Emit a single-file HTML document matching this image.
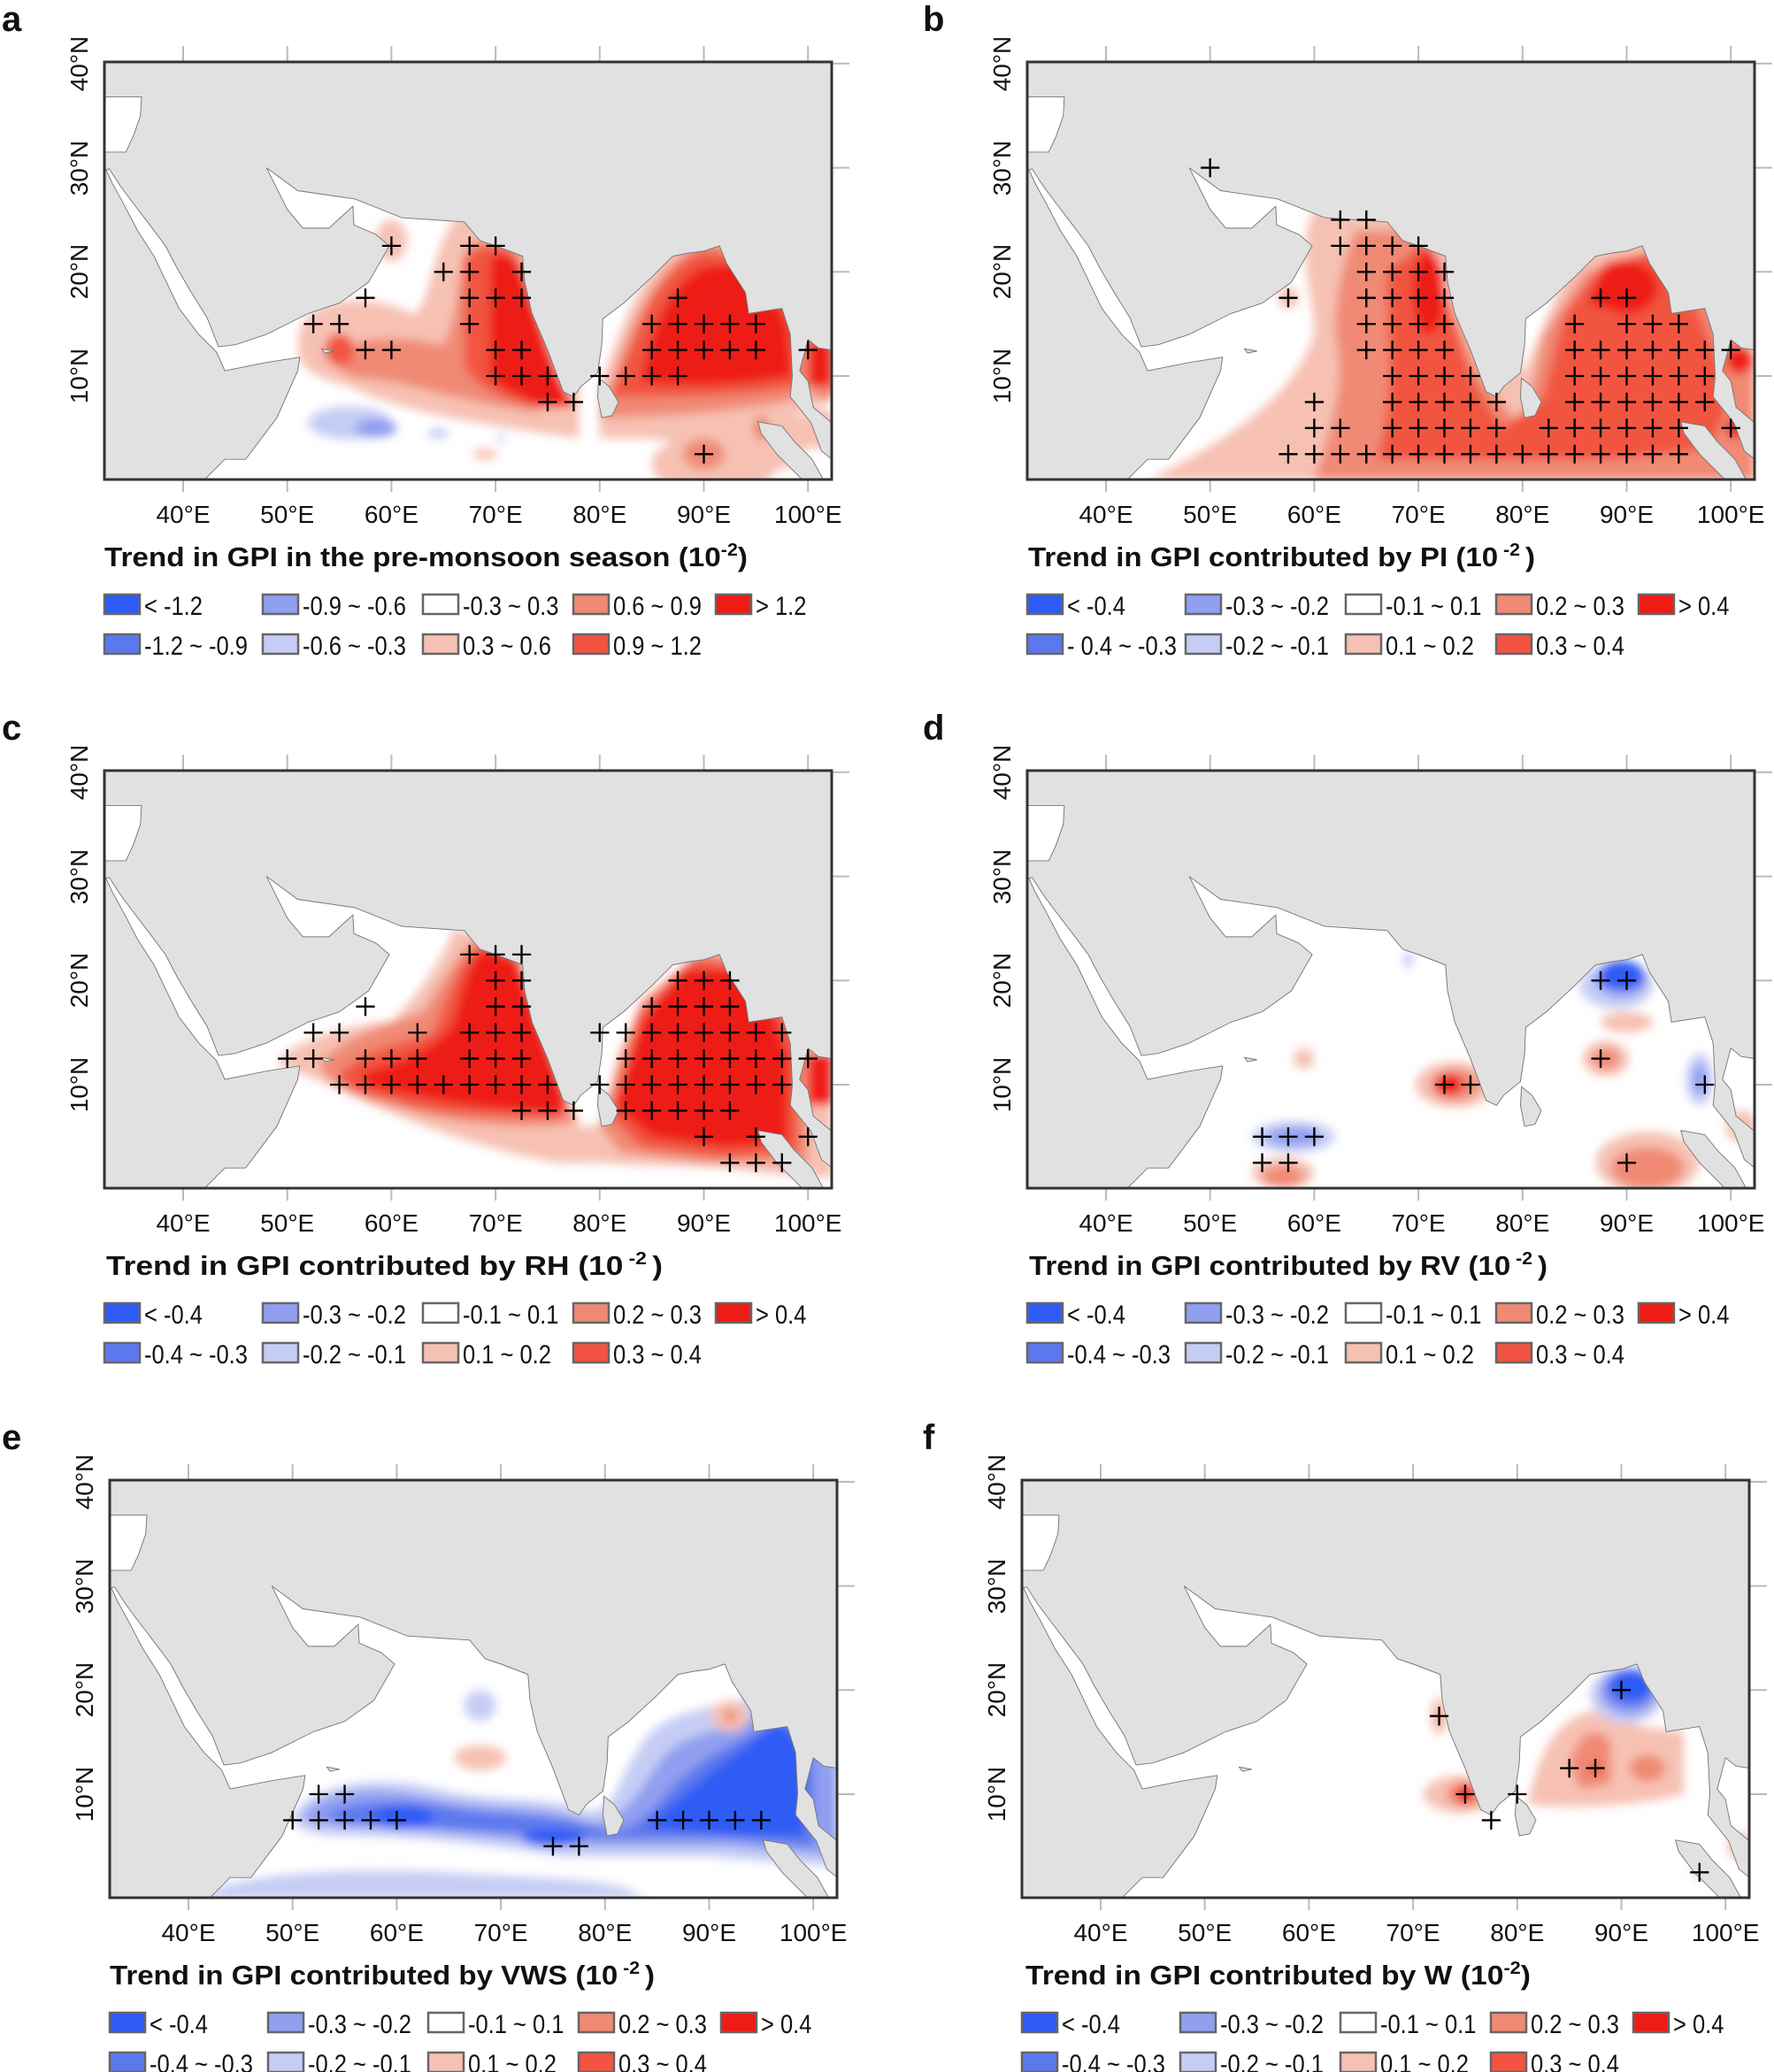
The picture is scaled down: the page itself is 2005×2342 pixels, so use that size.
<!DOCTYPE html>
<html><head><meta charset="utf-8"><style>
html,body{margin:0;padding:0;background:#fff}
svg{display:block}
text{font-family:"Liberation Sans",sans-serif;fill:#111}
.tl{font-size:28px}
.lg{font-size:30px}
.tt{font-size:31px;font-weight:bold}
.pl{font-size:40px;font-weight:bold}
</style></head><body>
<svg width="2005" height="2342" viewBox="0 0 2005 2342" xmlns="http://www.w3.org/2000/svg">
<defs>
<path id="seaP" d="M42,0 L44,2 L46,2 L49,6 L51,10.5 L51.2,11.8 L48,11.3 L44,10.5 L43.2,12.3 L41.5,14 L39.6,16.5 L38.4,19 L37.2,21.5 L35.6,24 L34.3,26.5 L33.2,28.5 L32.6,29.8 L32.9,29.9 L34,28.2 L35.2,26.6 L36.8,24.5 L38.3,22.5 L39.4,20.4 L40.8,18 L42.3,15.6 L43.4,12.8 L45,13 L48,14 L52,16 L55,17 L57.8,19 L59.8,22.5 L58.5,23.6 L56.4,24.5 L56.3,26.3 L54,24.2 L51.5,24.2 L50,26 L48,30 L51,27.8 L56.5,27 L61,25.2 L67,24.8 L68.5,23 L70,22.5 L72.6,21.5 L72.8,19 L73.5,16 L75,12.5 L76.5,8.5 L77.5,8 L78.2,9 L79.8,10.3 L80.2,13 L80.3,15.5 L82.3,17 L85,19.5 L87,21.5 L88.5,21.8 L90,22 L91.5,22.5 L92.2,20.8 L94,18 L94.3,16 L97.5,16.5 L98.3,14 L98.5,10 L98.3,8 L100.3,5.5 L101.3,2.8 L102.3,2 L102.3,0 Z M102.3,12.5 L101,12.7 L100,13.5 L99.2,10.5 L100,9.5 L100.5,7 L102.3,5.5 Z M32.4,31.5 L34.5,31.5 L35.2,33 L35.9,35 L36,36.8 L32.4,36.8 Z"/>
<path id="isl" d="M79.9,9.8 L80.9,9 L81.8,7.5 L81.2,6.2 L80.2,6 L79.8,8Z M95.2,5.6 L97.5,5.2 L98.7,3.7 L100.4,2 L101.5,0 L99.5,0 L97,2.5 L95.5,4.5Z M53.3,12.6 L54.5,12.4 L53.6,12.2Z"/>
<clipPath id="sc"><use href="#seaP"/></clipPath>
<clipPath id="mc"><rect x="118" y="70" width="822" height="472"/></clipPath>
<filter id="bl" x="-10%" y="-10%" width="120%" height="120%"><feGaussianBlur stdDeviation="0.45"/></filter>
<path id="cr" d="M-0.9,0h1.8M0,-0.9v1.8"/>
<g id="frame">
<g stroke="#bbb" stroke-width="2">
<path d="M207,52V70M324.7,52V70M442.4,52V70M560.1,52V70M677.8,52V70M795.5,52V70M913.2,52V70M940,425H960M940,307.3H960M940,189.6H960M940,71.9H960"/>
<path d="M207,542V556M324.7,542V556M442.4,542V556M560.1,542V556M677.8,542V556M795.5,542V556M913.2,542V556"/>
</g>
<rect x="118" y="70" width="822" height="472" fill="none" stroke="#333" stroke-width="3"/>
</g>
<g id="base">
<rect x="118" y="70" width="822" height="472" fill="#e1e1e1"/>
</g>
</defs>

<!-- PANEL A -->
<g>
<use href="#base"/>
<g clip-path="url(#mc)"><g transform="matrix(11.77,0,0,-11.77,-263.8,542.7)">
<use href="#seaP" fill="#fff"/>
<g clip-path="url(#sc)"><g filter="url(#bl)">
<g fill="#f6c1b3"><path d="M51,13 C51,18 58,18 62,16 C64,16 64,26 68,26 L78,24 L78,4 C72,5 62,6 56,9 C52,10 51,11 51,13Z"/><ellipse cx="60" cy="23" rx="1.5" ry="2"/><path d="M80,4 L80,9 C82,14 84,22 90,24 L98,22 L102.3,15 L102.3,8 L98,6 C96,4 92,3 85,4Z"/><ellipse cx="91" cy="1.5" rx="6" ry="3"/><ellipse cx="97" cy="4" rx="3" ry="3"/><ellipse cx="101" cy="5" rx="2" ry="2"/><ellipse cx="69" cy="2.5" rx="1.2" ry="0.5"/></g>
<g fill="#f08a74"><path d="M55,11 C55,14 60,14 65,13 C67,17 66,22 68,23 L72,23 L76,10 L74,6.5 C70,7 66,8 62,9 C58,10 55,9.5 55,11Z"/><path d="M80,6 C82,12 84,20 90,23 L97,21 L100,15 L100,8 C96,7 88,6 80,6Z"/><ellipse cx="101.5" cy="10.5" rx="1.5" ry="3"/><ellipse cx="90" cy="2.5" rx="2" ry="1.5"/><ellipse cx="95.5" cy="5" rx="0.8" ry="1.2"/></g>
<g fill="#f15440"><ellipse cx="55" cy="12.5" rx="1.4" ry="1.6"/><path d="M67,21 C68,23 71,23 72,21 L76.5,9 L77.5,7 L74,7 C70,8 68,9 67,11Z"/><path d="M81,8 C84,15 85,20 90,22 L96,21 L99,15 L99,9 C94,8 87,8 81,8Z"/></g>
<g fill="#ee1c14"><path d="M69.5,21 C70,22 72,22 72.5,20 L76,10 L77.5,7.3 L75,7 C72,8 70,9 69.5,10Z"/><path d="M84,9.5 C85,15 87,19 90,20.5 L95,21 L98,15 L98.5,10 C93,9 88,9 84,9.5Z"/><rect x="100" y="9" width="2.3" height="4.5"/></g>
<ellipse cx="56" cy="5.5" rx="4" ry="1.6" fill="#c6cdf5"/><ellipse cx="58.5" cy="5" rx="2" ry="0.9" fill="#909ff0"/><ellipse cx="64.5" cy="4.5" rx="1" ry="0.5" fill="#c6cdf5"/><ellipse cx="70.5" cy="4" rx="0.4" ry="0.4" fill="#c6cdf5"/>
</g></g>
<use href="#seaP" fill="none" stroke="#777" stroke-width="0.08"/>
<use href="#isl" fill="#e1e1e1" stroke="#777" stroke-width="0.08"/>
<g fill="none" stroke="#000" stroke-width="0.2">
<use href="#cr" x="60" y="22.5"/><use href="#cr" x="67.5" y="22.5"/><use href="#cr" x="70" y="22.5"/><use href="#cr" x="65" y="20"/><use href="#cr" x="67.5" y="20"/><use href="#cr" x="72.5" y="20"/><use href="#cr" x="57.5" y="17.5"/><use href="#cr" x="67.5" y="17.5"/><use href="#cr" x="70" y="17.5"/><use href="#cr" x="72.5" y="17.5"/><use href="#cr" x="87.5" y="17.5"/><use href="#cr" x="52.5" y="15"/><use href="#cr" x="55" y="15"/><use href="#cr" x="67.5" y="15"/><use href="#cr" x="85" y="15"/><use href="#cr" x="87.5" y="15"/><use href="#cr" x="90" y="15"/><use href="#cr" x="92.5" y="15"/><use href="#cr" x="95" y="15"/><use href="#cr" x="57.5" y="12.5"/><use href="#cr" x="60" y="12.5"/><use href="#cr" x="70" y="12.5"/><use href="#cr" x="72.5" y="12.5"/><use href="#cr" x="85" y="12.5"/><use href="#cr" x="87.5" y="12.5"/><use href="#cr" x="90" y="12.5"/><use href="#cr" x="92.5" y="12.5"/><use href="#cr" x="95" y="12.5"/><use href="#cr" x="100" y="12.5"/><use href="#cr" x="70" y="10"/><use href="#cr" x="72.5" y="10"/><use href="#cr" x="75" y="10"/><use href="#cr" x="80" y="10"/><use href="#cr" x="82.5" y="10"/><use href="#cr" x="85" y="10"/><use href="#cr" x="87.5" y="10"/><use href="#cr" x="75" y="7.5"/><use href="#cr" x="77.5" y="7.5"/><use href="#cr" x="90" y="2.5"/>
</g>
</g></g>
<use href="#frame"/>
</g>

<!-- PANEL B -->
<g transform="translate(1043,0)">
<use href="#base"/>
<g clip-path="url(#mc)"><g transform="matrix(11.77,0,0,-11.77,-263.8,542.7)">
<use href="#seaP" fill="#fff"/>
<g clip-path="url(#sc)"><g filter="url(#bl)">
<g fill="#f6c1b3"><path d="M44,0 C52,4 58,8 60,14 C60,18 58,22 60,26 L70,26 L78,24 L80,10 L85,22 L92,23 L102.3,18 L102.3,0 Z"/><circle cx="50" cy="30" r="1"/><circle cx="57.5" cy="17.5" r="1"/></g>
<path fill="#f08a74" d="M60,0 C62,6 63,10 62,14 C62,18 63,22 64,24 L70,24 L76,10 L80,5 L82,14 L86,20 L92,22 L98,17 L102.3,12 L102.3,0Z"/>
<path fill="#f15440" d="M66,2 C68,8 67,14 67,20 L71,23 L75,10 L78,5 L82,8 L84,16 L88,21 L93,22 L97,16 L100,8 L98,3 L88,2Z"/>
<g fill="#ee1c14"><ellipse cx="71" cy="18" rx="1.5" ry="4"/><ellipse cx="90" cy="18.5" rx="3" ry="2.5"/><circle cx="87.5" cy="17.5" r="1"/><circle cx="100.8" cy="11.5" r="1.3"/><circle cx="100.5" cy="5" r="1"/></g>
</g></g>
<use href="#seaP" fill="none" stroke="#777" stroke-width="0.08"/>
<use href="#isl" fill="#e1e1e1" stroke="#777" stroke-width="0.08"/>
<g fill="none" stroke="#000" stroke-width="0.2">
<use href="#cr" x="50" y="30"/><use href="#cr" x="62.5" y="25"/><use href="#cr" x="65" y="25"/>
<use href="#cr" x="62.5" y="22.5"/><use href="#cr" x="65" y="22.5"/><use href="#cr" x="67.5" y="22.5"/><use href="#cr" x="70" y="22.5"/>
<use href="#cr" x="65" y="20"/><use href="#cr" x="67.5" y="20"/><use href="#cr" x="70" y="20"/><use href="#cr" x="72.5" y="20"/>
<use href="#cr" x="57.5" y="17.5"/><use href="#cr" x="65" y="17.5"/><use href="#cr" x="67.5" y="17.5"/><use href="#cr" x="70" y="17.5"/><use href="#cr" x="72.5" y="17.5"/><use href="#cr" x="87.5" y="17.5"/><use href="#cr" x="90" y="17.5"/>
<use href="#cr" x="65" y="15"/><use href="#cr" x="67.5" y="15"/><use href="#cr" x="70" y="15"/><use href="#cr" x="72.5" y="15"/><use href="#cr" x="85" y="15"/><use href="#cr" x="90" y="15"/><use href="#cr" x="92.5" y="15"/><use href="#cr" x="95" y="15"/>
<use href="#cr" x="65" y="12.5"/><use href="#cr" x="67.5" y="12.5"/><use href="#cr" x="70" y="12.5"/><use href="#cr" x="72.5" y="12.5"/><use href="#cr" x="85" y="12.5"/><use href="#cr" x="87.5" y="12.5"/><use href="#cr" x="90" y="12.5"/><use href="#cr" x="92.5" y="12.5"/><use href="#cr" x="95" y="12.5"/><use href="#cr" x="97.5" y="12.5"/><use href="#cr" x="100" y="12.5"/>
<use href="#cr" x="67.5" y="10"/><use href="#cr" x="70" y="10"/><use href="#cr" x="72.5" y="10"/><use href="#cr" x="75" y="10"/><use href="#cr" x="85" y="10"/><use href="#cr" x="87.5" y="10"/><use href="#cr" x="90" y="10"/><use href="#cr" x="92.5" y="10"/><use href="#cr" x="95" y="10"/><use href="#cr" x="97.5" y="10"/>
<use href="#cr" x="60" y="7.5"/><use href="#cr" x="67.5" y="7.5"/><use href="#cr" x="70" y="7.5"/><use href="#cr" x="72.5" y="7.5"/><use href="#cr" x="75" y="7.5"/><use href="#cr" x="77.5" y="7.5"/><use href="#cr" x="85" y="7.5"/><use href="#cr" x="87.5" y="7.5"/><use href="#cr" x="90" y="7.5"/><use href="#cr" x="92.5" y="7.5"/><use href="#cr" x="95" y="7.5"/><use href="#cr" x="97.5" y="7.5"/>
<use href="#cr" x="60" y="5"/><use href="#cr" x="62.5" y="5"/><use href="#cr" x="67.5" y="5"/><use href="#cr" x="70" y="5"/><use href="#cr" x="72.5" y="5"/><use href="#cr" x="75" y="5"/><use href="#cr" x="77.5" y="5"/><use href="#cr" x="82.5" y="5"/><use href="#cr" x="85" y="5"/><use href="#cr" x="87.5" y="5"/><use href="#cr" x="90" y="5"/><use href="#cr" x="92.5" y="5"/><use href="#cr" x="95" y="5"/><use href="#cr" x="100" y="5"/>
<use href="#cr" x="57.5" y="2.5"/><use href="#cr" x="60" y="2.5"/><use href="#cr" x="62.5" y="2.5"/><use href="#cr" x="65" y="2.5"/><use href="#cr" x="67.5" y="2.5"/><use href="#cr" x="70" y="2.5"/><use href="#cr" x="72.5" y="2.5"/><use href="#cr" x="75" y="2.5"/><use href="#cr" x="77.5" y="2.5"/><use href="#cr" x="80" y="2.5"/><use href="#cr" x="82.5" y="2.5"/><use href="#cr" x="85" y="2.5"/><use href="#cr" x="87.5" y="2.5"/><use href="#cr" x="90" y="2.5"/><use href="#cr" x="92.5" y="2.5"/><use href="#cr" x="95" y="2.5"/>
</g>
</g></g>
<use href="#frame"/>
</g>

<!-- PANEL C -->
<g transform="translate(0,801)">
<use href="#base"/>
<g clip-path="url(#mc)"><g transform="matrix(11.77,0,0,-11.77,-263.8,542.7)">
<use href="#seaP" fill="#fff"/>
<g clip-path="url(#sc)"><g filter="url(#bl)">
<path fill="#f6c1b3" d="M49,12 C50,14 56,16 60,16 C62,18 65,22 66,25 L70,24 L76,10 L78,6 L82,6 L84,18 L90,23 L98,21 L102.3,12 L102.3,1 L96,1.5 C90,2.5 86,2 80,2.5 L76,2.5 C70,3.5 62,6 54,10 Z"/>
<path fill="#f08a74" d="M53,12 C56,15 60,16 63,17 C65,20 66,22 68,24 L72,23 L77,8 L78,6.5 C74,5.5 66,6 60,8 C56,9 54,10 53,12Z M80,6 L82,13 L84,18 L90,23 L97,21 L100,13 L100,2.5 L90,2.5 L82,3.5Z"/>
<path fill="#f15440" d="M55,11 C58,14 62,14 64,15 C66,20 67,23 69,23.5 L72,22 L77,8 L76,6.8 C70,7 64,7 60,8.5 C57,9 55,10 55,11Z M81,7 L84,17 L89,22 L96,21 L99,13 L99,3.5 L92,3 L84,4Z"/>
<path fill="#ee1c14" d="M57,11 C60,12 64,13 66,16 C67,20 67.5,22 69,23 L72,22 L76.5,9 L76.5,7.2 C72,7.5 66,8 62,9 C59,9.5 57,10 57,11Z M81.5,8 L84,16 L88,21 L95,21 L98,13 L98,4.5 L92,4 L85,5Z M100,8 L102.3,8 L102.3,13 L100,13Z"/>
</g></g>
<use href="#seaP" fill="none" stroke="#777" stroke-width="0.08"/>
<use href="#isl" fill="#e1e1e1" stroke="#777" stroke-width="0.08"/>
<g fill="none" stroke="#000" stroke-width="0.2">
<use href="#cr" x="67.5" y="22.5"/><use href="#cr" x="70" y="22.5"/><use href="#cr" x="72.5" y="22.5"/>
<use href="#cr" x="70" y="20"/><use href="#cr" x="72.5" y="20"/><use href="#cr" x="87.5" y="20"/><use href="#cr" x="90" y="20"/><use href="#cr" x="92.5" y="20"/>
<use href="#cr" x="57.5" y="17.5"/><use href="#cr" x="70" y="17.5"/><use href="#cr" x="72.5" y="17.5"/><use href="#cr" x="85" y="17.5"/><use href="#cr" x="87.5" y="17.5"/><use href="#cr" x="90" y="17.5"/><use href="#cr" x="92.5" y="17.5"/>
<use href="#cr" x="52.5" y="15"/><use href="#cr" x="55" y="15"/><use href="#cr" x="62.5" y="15"/><use href="#cr" x="67.5" y="15"/><use href="#cr" x="70" y="15"/><use href="#cr" x="72.5" y="15"/><use href="#cr" x="80" y="15"/><use href="#cr" x="82.5" y="15"/><use href="#cr" x="85" y="15"/><use href="#cr" x="87.5" y="15"/><use href="#cr" x="90" y="15"/><use href="#cr" x="92.5" y="15"/><use href="#cr" x="95" y="15"/><use href="#cr" x="97.5" y="15"/>
<use href="#cr" x="50" y="12.5"/><use href="#cr" x="52.5" y="12.5"/><use href="#cr" x="57.5" y="12.5"/><use href="#cr" x="60" y="12.5"/><use href="#cr" x="62.5" y="12.5"/><use href="#cr" x="67.5" y="12.5"/><use href="#cr" x="70" y="12.5"/><use href="#cr" x="72.5" y="12.5"/><use href="#cr" x="82.5" y="12.5"/><use href="#cr" x="85" y="12.5"/><use href="#cr" x="87.5" y="12.5"/><use href="#cr" x="90" y="12.5"/><use href="#cr" x="92.5" y="12.5"/><use href="#cr" x="95" y="12.5"/><use href="#cr" x="97.5" y="12.5"/><use href="#cr" x="100" y="12.5"/>
<use href="#cr" x="55" y="10"/><use href="#cr" x="57.5" y="10"/><use href="#cr" x="60" y="10"/><use href="#cr" x="62.5" y="10"/><use href="#cr" x="65" y="10"/><use href="#cr" x="67.5" y="10"/><use href="#cr" x="70" y="10"/><use href="#cr" x="72.5" y="10"/><use href="#cr" x="75" y="10"/><use href="#cr" x="80" y="10"/><use href="#cr" x="82.5" y="10"/><use href="#cr" x="85" y="10"/><use href="#cr" x="87.5" y="10"/><use href="#cr" x="90" y="10"/><use href="#cr" x="92.5" y="10"/><use href="#cr" x="95" y="10"/><use href="#cr" x="97.5" y="10"/>
<use href="#cr" x="72.5" y="7.5"/><use href="#cr" x="75" y="7.5"/><use href="#cr" x="77.5" y="7.5"/><use href="#cr" x="82.5" y="7.5"/><use href="#cr" x="85" y="7.5"/><use href="#cr" x="87.5" y="7.5"/><use href="#cr" x="90" y="7.5"/><use href="#cr" x="92.5" y="7.5"/>
<use href="#cr" x="90" y="5"/><use href="#cr" x="95" y="5"/><use href="#cr" x="100" y="5"/><use href="#cr" x="92.5" y="2.5"/><use href="#cr" x="95" y="2.5"/><use href="#cr" x="97.5" y="2.5"/>
</g>
</g></g>
<use href="#frame"/>
</g>

<!-- PANEL D -->
<g transform="translate(1043,801)">
<use href="#base"/>
<g clip-path="url(#mc)"><g transform="matrix(11.77,0,0,-11.77,-263.8,542.7)">
<use href="#seaP" fill="#fff"/>
<g clip-path="url(#sc)"><g filter="url(#bl)">
<g fill="#f6c1b3"><ellipse cx="73.5" cy="10" rx="3.8" ry="2.2"/><circle cx="59" cy="12.5" r="1"/><ellipse cx="88" cy="12.5" rx="2.2" ry="1.7"/><ellipse cx="90" cy="16" rx="2.5" ry="1"/><ellipse cx="92" cy="2.5" rx="5" ry="3"/><ellipse cx="57" cy="1.5" rx="3" ry="1.5"/><circle cx="101" cy="6" r="1.5"/></g>
<g fill="#f08a74"><ellipse cx="73.5" cy="10" rx="2.4" ry="1.5"/><ellipse cx="88" cy="12.5" rx="1.3" ry="1"/><ellipse cx="92" cy="2" rx="3.5" ry="2"/><ellipse cx="57" cy="1.2" rx="2" ry="1"/></g>
<ellipse cx="73" cy="10" rx="1.3" ry="1" fill="#ee1c14"/>
<g fill="#c6cdf5"><ellipse cx="58" cy="5" rx="4" ry="1.5"/><ellipse cx="89" cy="19.5" rx="3.5" ry="2.2"/><ellipse cx="97" cy="10.5" rx="1.3" ry="2.5"/><ellipse cx="69" cy="22" rx="0.5" ry="0.8"/></g>
<g fill="#909ff0"><ellipse cx="58" cy="5" rx="2.5" ry="0.9"/><ellipse cx="89.5" cy="20" rx="2.5" ry="1.6"/><ellipse cx="97" cy="10.5" rx="0.7" ry="1.5"/></g>
<ellipse cx="89.5" cy="20.5" rx="2.2" ry="1.4" fill="#2e5cf5"/>
</g></g>
<use href="#seaP" fill="none" stroke="#777" stroke-width="0.08"/>
<use href="#isl" fill="#e1e1e1" stroke="#777" stroke-width="0.08"/>
<g fill="none" stroke="#000" stroke-width="0.2">
<use href="#cr" x="87.5" y="20"/><use href="#cr" x="90" y="20"/><use href="#cr" x="87.5" y="12.5"/><use href="#cr" x="97.5" y="10"/><use href="#cr" x="72.5" y="10"/><use href="#cr" x="75" y="10"/><use href="#cr" x="55" y="5"/><use href="#cr" x="57.5" y="5"/><use href="#cr" x="60" y="5"/><use href="#cr" x="55" y="2.5"/><use href="#cr" x="57.5" y="2.5"/><use href="#cr" x="90" y="2.5"/>
</g>
</g></g>
<use href="#frame"/>
</g>

<!-- PANEL E -->
<g transform="translate(6,1603)">
<use href="#base"/>
<g clip-path="url(#mc)"><g transform="matrix(11.77,0,0,-11.77,-263.8,542.7)">
<use href="#seaP" fill="#fff"/>
<g clip-path="url(#sc)"><g filter="url(#bl)">
<g fill="#c6cdf5"><path d="M40,0 C45,2.5 55,3 65,2.5 C72,2 78,2 82,1 L84,0Z"/><path d="M50,8 C52,11 58,12 64,10.5 C70,9 74,10 78,8.5 C81,8 81,11 83,14 C85,18 89,18 95,19.5 L100,20 L102.3,14 L102.3,3 L90,4 C84,4 80,4 76,4 C70,5 62,6 55,6 C51,6 50,7 50,8Z"/><circle cx="68" cy="18.5" r="1.5"/></g>
<path fill="#909ff0" d="M51,8 C53,10.5 58,11 64,9.5 C70,8.5 74,9 78,7.5 C82,6.5 84,12 86,14 C88,16 92,16 95,18 L100,18 L102.3,13 L102.3,4 L92,5 C86,5 82,5 78,5 C72,5.5 64,6.5 57,6.8 C53,7 51,7 51,8Z"/>
<path fill="#5b78ee" d="M53,8 C56,9.5 62,9.5 66,8.5 C72,7.8 76,8 80,6.5 C84,6 86,11 88,12 C90,14 93,15 96,17 L100,16 L100,5 L92,5.8 C86,6 82,5.5 76,6 C68,6.5 60,7 55,7.2Z"/>
<g fill="#2e5cf5"><ellipse cx="60.5" cy="7.8" rx="3" ry="1.1"/><path d="M84,6.8 C86,9 88,10 90,12 C93,14 95,16 97,17 L99,14 L99,6 L92,6Z"/><ellipse cx="75" cy="5.8" rx="3" ry="0.8"/></g>
<g fill="#f6c1b3"><ellipse cx="68" cy="13.5" rx="2.5" ry="1.2"/><ellipse cx="92" cy="17.5" rx="1.8" ry="1.5"/></g>
<circle cx="92" cy="17.5" r="0.6" fill="#f08a74"/>
</g></g>
<use href="#seaP" fill="none" stroke="#777" stroke-width="0.08"/>
<use href="#isl" fill="#e1e1e1" stroke="#777" stroke-width="0.08"/>
<g fill="none" stroke="#000" stroke-width="0.2">
<use href="#cr" x="52.5" y="10"/><use href="#cr" x="55" y="10"/><use href="#cr" x="50" y="7.5"/><use href="#cr" x="52.5" y="7.5"/><use href="#cr" x="55" y="7.5"/><use href="#cr" x="57.5" y="7.5"/><use href="#cr" x="60" y="7.5"/><use href="#cr" x="75" y="5"/><use href="#cr" x="77.5" y="5"/><use href="#cr" x="85" y="7.5"/><use href="#cr" x="87.5" y="7.5"/><use href="#cr" x="90" y="7.5"/><use href="#cr" x="92.5" y="7.5"/><use href="#cr" x="95" y="7.5"/>
</g>
</g></g>
<use href="#frame"/>
</g>

<!-- PANEL F -->
<g transform="translate(1037,1603)">
<use href="#base"/>
<g clip-path="url(#mc)"><g transform="matrix(11.77,0,0,-11.77,-263.8,542.7)">
<use href="#seaP" fill="#fff"/>
<g clip-path="url(#sc)"><g filter="url(#bl)">
<g fill="#f6c1b3"><ellipse cx="74.5" cy="10" rx="3.5" ry="1.8"/><ellipse cx="72.5" cy="17.5" rx="0.8" ry="1.8"/><path d="M81,9 C82,14 84,18 88,18 L92,16.5 L96,16 L96,10 C92,9 86,8.5 81,9Z"/><circle cx="101.5" cy="5" r="1.3"/><circle cx="97.5" cy="2.5" r="0.6"/></g>
<g fill="#f08a74"><ellipse cx="75" cy="10" rx="1.8" ry="1.2"/><path d="M85,13 C86,16.5 88,16.5 89,15 L89,11 L86,10.5Z"/><ellipse cx="92.5" cy="12.5" rx="1.7" ry="1.3"/><ellipse cx="72.5" cy="17.5" rx="0.3" ry="0.6"/></g>
<circle cx="75" cy="10" r="0.8" fill="#ee1c14"/><circle cx="87.5" cy="12.5" r="0.6" fill="#f15440"/>
<ellipse cx="90.5" cy="19.5" rx="3.5" ry="2.7" fill="#c6cdf5"/><ellipse cx="90.7" cy="19.8" rx="2.8" ry="2.2" fill="#909ff0"/><ellipse cx="90.8" cy="20.2" rx="2.3" ry="1.8" fill="#5b78ee"/><ellipse cx="91" cy="20.5" rx="2" ry="1.5" fill="#2e5cf5"/>
</g></g>
<use href="#seaP" fill="none" stroke="#777" stroke-width="0.08"/>
<use href="#isl" fill="#e1e1e1" stroke="#777" stroke-width="0.08"/>
<g fill="none" stroke="#000" stroke-width="0.2">
<use href="#cr" x="72.5" y="17.5"/><use href="#cr" x="75" y="10"/><use href="#cr" x="77.5" y="7.5"/><use href="#cr" x="80" y="10"/><use href="#cr" x="85" y="12.5"/><use href="#cr" x="87.5" y="12.5"/><use href="#cr" x="90" y="20"/><use href="#cr" x="97.5" y="2.5"/>
</g>
</g></g>
<use href="#frame"/>
</g>

<!-- panel letters -->
<text class="pl" x="2" y="35">a</text>
<text class="pl" x="1043" y="35">b</text>
<text class="pl" x="2" y="836">c</text>
<text class="pl" x="1043" y="836">d</text>
<text class="pl" x="2" y="1638">e</text>
<text class="pl" x="1043" y="1638">f</text>

<!-- axis labels -->
<g class="tl" text-anchor="middle">
<g transform="translate(0,0)">
<text x="207" y="591">40°E</text><text x="324.7" y="591">50°E</text><text x="442.4" y="591">60°E</text><text x="560.1" y="591">70°E</text><text x="677.8" y="591">80°E</text><text x="795.5" y="591">90°E</text><text x="913.2" y="591">100°E</text>
<text transform="translate(99,72) rotate(-90)">40°N</text><text transform="translate(99,190) rotate(-90)">30°N</text><text transform="translate(99,307) rotate(-90)">20°N</text><text transform="translate(99,425) rotate(-90)">10°N</text>
</g>
<g transform="translate(1043,0)">
<text x="207" y="591">40°E</text><text x="324.7" y="591">50°E</text><text x="442.4" y="591">60°E</text><text x="560.1" y="591">70°E</text><text x="677.8" y="591">80°E</text><text x="795.5" y="591">90°E</text><text x="913.2" y="591">100°E</text>
<text transform="translate(99,72) rotate(-90)">40°N</text><text transform="translate(99,190) rotate(-90)">30°N</text><text transform="translate(99,307) rotate(-90)">20°N</text><text transform="translate(99,425) rotate(-90)">10°N</text>
</g>
<g transform="translate(0,801)">
<text x="207" y="591">40°E</text><text x="324.7" y="591">50°E</text><text x="442.4" y="591">60°E</text><text x="560.1" y="591">70°E</text><text x="677.8" y="591">80°E</text><text x="795.5" y="591">90°E</text><text x="913.2" y="591">100°E</text>
<text transform="translate(99,72) rotate(-90)">40°N</text><text transform="translate(99,190) rotate(-90)">30°N</text><text transform="translate(99,307) rotate(-90)">20°N</text><text transform="translate(99,425) rotate(-90)">10°N</text>
</g>
<g transform="translate(1043,801)">
<text x="207" y="591">40°E</text><text x="324.7" y="591">50°E</text><text x="442.4" y="591">60°E</text><text x="560.1" y="591">70°E</text><text x="677.8" y="591">80°E</text><text x="795.5" y="591">90°E</text><text x="913.2" y="591">100°E</text>
<text transform="translate(99,72) rotate(-90)">40°N</text><text transform="translate(99,190) rotate(-90)">30°N</text><text transform="translate(99,307) rotate(-90)">20°N</text><text transform="translate(99,425) rotate(-90)">10°N</text>
</g>
<g transform="translate(6,1603)">
<text x="207" y="591">40°E</text><text x="324.7" y="591">50°E</text><text x="442.4" y="591">60°E</text><text x="560.1" y="591">70°E</text><text x="677.8" y="591">80°E</text><text x="795.5" y="591">90°E</text><text x="913.2" y="591">100°E</text>
<text transform="translate(99,72) rotate(-90)">40°N</text><text transform="translate(99,190) rotate(-90)">30°N</text><text transform="translate(99,307) rotate(-90)">20°N</text><text transform="translate(99,425) rotate(-90)">10°N</text>
</g>
<g transform="translate(1037,1603)">
<text x="207" y="591">40°E</text><text x="324.7" y="591">50°E</text><text x="442.4" y="591">60°E</text><text x="560.1" y="591">70°E</text><text x="677.8" y="591">80°E</text><text x="795.5" y="591">90°E</text><text x="913.2" y="591">100°E</text>
<text transform="translate(99,72) rotate(-90)">40°N</text><text transform="translate(99,190) rotate(-90)">30°N</text><text transform="translate(99,307) rotate(-90)">20°N</text><text transform="translate(99,425) rotate(-90)">10°N</text>
</g>
</g>

<!-- titles -->
<text class="tt" x="118" y="640" textLength="727" lengthAdjust="spacingAndGlyphs">Trend in GPI in the pre-monsoon season (10<tspan dy="-12" font-size="20">-2</tspan><tspan dy="12">)</tspan></text>
<text class="tt" x="1162" y="640" textLength="573" lengthAdjust="spacingAndGlyphs">Trend in GPI contributed by PI (10<tspan dy="-12" font-size="20"> -2 </tspan><tspan dy="12">)</tspan></text>
<text class="tt" x="120" y="1441" textLength="629" lengthAdjust="spacingAndGlyphs">Trend in GPI contributed by RH (10<tspan dy="-12" font-size="20"> -2 </tspan><tspan dy="12">)</tspan></text>
<text class="tt" x="1163" y="1441" textLength="586" lengthAdjust="spacingAndGlyphs">Trend in GPI contributed by RV (10<tspan dy="-12" font-size="20"> -2 </tspan><tspan dy="12">)</tspan></text>
<text class="tt" x="124" y="2243" textLength="616" lengthAdjust="spacingAndGlyphs">Trend in GPI contributed by VWS (10<tspan dy="-12" font-size="20"> -2 </tspan><tspan dy="12">)</tspan></text>
<text class="tt" x="1159" y="2243" textLength="571" lengthAdjust="spacingAndGlyphs">Trend in GPI contributed by W (10<tspan dy="-12" font-size="20">-2</tspan><tspan dy="12">)</tspan></text>

<!-- legends -->
<defs>
<g id="sw">
<g stroke="#666" stroke-width="2.5">
<rect x="118" y="672" width="40" height="22" fill="#2e5cf5"/><rect x="297" y="672" width="40" height="22" fill="#909ff0"/><rect x="478" y="672" width="40" height="22" fill="#fff"/><rect x="648" y="672" width="40" height="22" fill="#f08a74"/><rect x="809" y="672" width="40" height="22" fill="#ee1c14"/>
<rect x="118" y="717" width="40" height="22" fill="#5b78ee"/><rect x="297" y="717" width="40" height="22" fill="#c6cdf5"/><rect x="478" y="717" width="40" height="22" fill="#f6c1b3"/><rect x="648" y="717" width="40" height="22" fill="#f15440"/>
</g></g>
</defs>
<use href="#sw"/><use href="#sw" x="1043"/><use href="#sw" y="801"/><use href="#sw" x="1043" y="801"/><use href="#sw" x="6" y="1603"/><use href="#sw" x="1037" y="1603"/>

<g class="lg">
<g transform="translate(0,0)">
<text transform="translate(163,695) scale(0.85,1)">&lt; -1.2</text><text transform="translate(342,695) scale(0.85,1)">-0.9 ~ -0.6</text><text transform="translate(523,695) scale(0.85,1)">-0.3 ~ 0.3</text><text transform="translate(693,695) scale(0.85,1)">0.6 ~ 0.9</text><text transform="translate(854,695) scale(0.85,1)">&gt; 1.2</text>
<text transform="translate(163,740) scale(0.85,1)">-1.2 ~ -0.9</text><text transform="translate(342,740) scale(0.85,1)">-0.6 ~ -0.3</text><text transform="translate(523,740) scale(0.85,1)">0.3 ~ 0.6</text><text transform="translate(693,740) scale(0.85,1)">0.9 ~ 1.2</text>
</g>
<g transform="translate(1043,0)">
<text transform="translate(163,695) scale(0.85,1)">&lt; -0.4</text><text transform="translate(342,695) scale(0.85,1)">-0.3 ~ -0.2</text><text transform="translate(523,695) scale(0.85,1)">-0.1 ~ 0.1</text><text transform="translate(693,695) scale(0.85,1)">0.2 ~ 0.3</text><text transform="translate(854,695) scale(0.85,1)">&gt; 0.4</text>
<text transform="translate(163,740) scale(0.85,1)">- 0.4 ~ -0.3</text><text transform="translate(342,740) scale(0.85,1)">-0.2 ~ -0.1</text><text transform="translate(523,740) scale(0.85,1)">0.1 ~ 0.2</text><text transform="translate(693,740) scale(0.85,1)">0.3 ~ 0.4</text>
</g>
<g transform="translate(0,801)">
<text transform="translate(163,695) scale(0.85,1)">&lt; -0.4</text><text transform="translate(342,695) scale(0.85,1)">-0.3 ~ -0.2</text><text transform="translate(523,695) scale(0.85,1)">-0.1 ~ 0.1</text><text transform="translate(693,695) scale(0.85,1)">0.2 ~ 0.3</text><text transform="translate(854,695) scale(0.85,1)">&gt; 0.4</text>
<text transform="translate(163,740) scale(0.85,1)">-0.4 ~ -0.3</text><text transform="translate(342,740) scale(0.85,1)">-0.2 ~ -0.1</text><text transform="translate(523,740) scale(0.85,1)">0.1 ~ 0.2</text><text transform="translate(693,740) scale(0.85,1)">0.3 ~ 0.4</text>
</g>
<g transform="translate(1043,801)">
<text transform="translate(163,695) scale(0.85,1)">&lt; -0.4</text><text transform="translate(342,695) scale(0.85,1)">-0.3 ~ -0.2</text><text transform="translate(523,695) scale(0.85,1)">-0.1 ~ 0.1</text><text transform="translate(693,695) scale(0.85,1)">0.2 ~ 0.3</text><text transform="translate(854,695) scale(0.85,1)">&gt; 0.4</text>
<text transform="translate(163,740) scale(0.85,1)">-0.4 ~ -0.3</text><text transform="translate(342,740) scale(0.85,1)">-0.2 ~ -0.1</text><text transform="translate(523,740) scale(0.85,1)">0.1 ~ 0.2</text><text transform="translate(693,740) scale(0.85,1)">0.3 ~ 0.4</text>
</g>
<g transform="translate(6,1603)">
<text transform="translate(163,695) scale(0.85,1)">&lt; -0.4</text><text transform="translate(342,695) scale(0.85,1)">-0.3 ~ -0.2</text><text transform="translate(523,695) scale(0.85,1)">-0.1 ~ 0.1</text><text transform="translate(693,695) scale(0.85,1)">0.2 ~ 0.3</text><text transform="translate(854,695) scale(0.85,1)">&gt; 0.4</text>
<text transform="translate(163,740) scale(0.85,1)">-0.4 ~ -0.3</text><text transform="translate(342,740) scale(0.85,1)">-0.2 ~ -0.1</text><text transform="translate(523,740) scale(0.85,1)">0.1 ~ 0.2</text><text transform="translate(693,740) scale(0.85,1)">0.3 ~ 0.4</text>
</g>
<g transform="translate(1037,1603)">
<text transform="translate(163,695) scale(0.85,1)">&lt; -0.4</text><text transform="translate(342,695) scale(0.85,1)">-0.3 ~ -0.2</text><text transform="translate(523,695) scale(0.85,1)">-0.1 ~ 0.1</text><text transform="translate(693,695) scale(0.85,1)">0.2 ~ 0.3</text><text transform="translate(854,695) scale(0.85,1)">&gt; 0.4</text>
<text transform="translate(163,740) scale(0.85,1)">-0.4 ~ -0.3</text><text transform="translate(342,740) scale(0.85,1)">-0.2 ~ -0.1</text><text transform="translate(523,740) scale(0.85,1)">0.1 ~ 0.2</text><text transform="translate(693,740) scale(0.85,1)">0.3 ~ 0.4</text>
</g>
</g>
</svg>
</body></html>
